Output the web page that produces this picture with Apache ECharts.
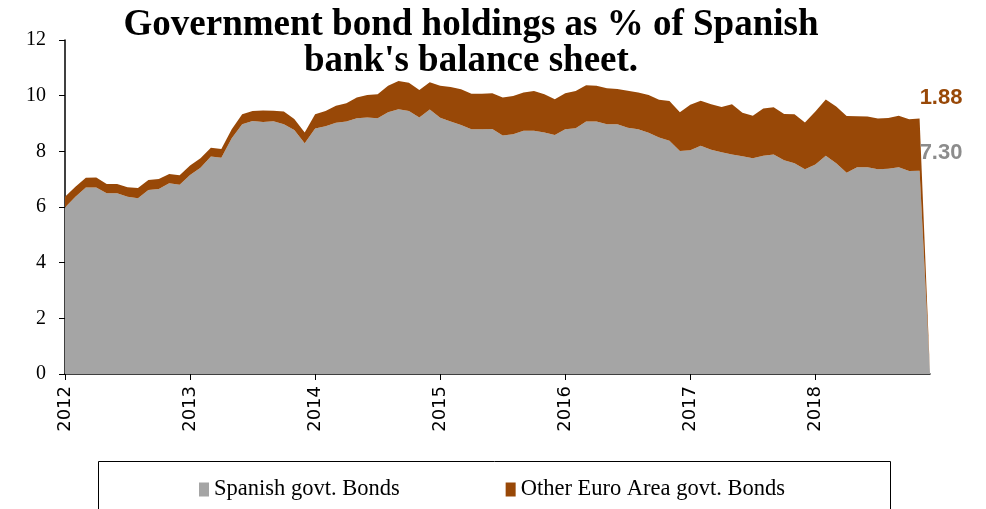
<!DOCTYPE html>
<html>
<head>
<meta charset="utf-8">
<script src="https://cdn.jsdelivr.net/npm/echarts@6/dist/echarts.min.js"></script>
<style>html,body{margin:0;padding:0;background:#fff;}#c{width:986px;height:509px;}</style>
</head>
<body>
<div id="c"></div>
<script>
const years = [2012, 2013, 2014, 2015, 2016, 2017, 2018];
const months = [];
for (let y = 2012; y <= 2018; y++) for (let m = 1; m <= 12; m++) months.push(y + '-' + String(m).padStart(2, '0'));
const spanish = [
  5.98, 6.37, 6.70, 6.70, 6.49, 6.49, 6.37, 6.31, 6.61, 6.65, 6.85, 6.80,
  7.15, 7.41, 7.81, 7.77, 8.47, 8.97, 9.09, 9.05, 9.08, 8.97, 8.77, 8.29,
  8.82, 8.90, 9.03, 9.07, 9.19, 9.22, 9.19, 9.40, 9.51, 9.45, 9.22, 9.50,
  9.21, 9.07, 8.95, 8.79, 8.79, 8.80, 8.57, 8.61, 8.74, 8.74, 8.68, 8.59,
  8.79, 8.83, 9.07, 9.07, 8.97, 8.97, 8.85, 8.79, 8.67, 8.50, 8.38, 8.01,
  8.04, 8.20, 8.06, 7.97, 7.89, 7.82, 7.75, 7.84, 7.89, 7.68, 7.57, 7.36,
  7.53, 7.84, 7.57, 7.23, 7.43, 7.43, 7.36, 7.37, 7.43, 7.29, 7.30, 0
];
const otherEA = [
  0.39, 0.36, 0.35, 0.36, 0.34, 0.34, 0.34, 0.37, 0.36, 0.36, 0.34, 0.34,
  0.34, 0.34, 0.32, 0.31, 0.32, 0.36, 0.36, 0.42, 0.38, 0.46, 0.39, 0.39,
  0.51, 0.55, 0.61, 0.66, 0.74, 0.80, 0.86, 0.96, 1.02, 1.01, 0.98, 0.98,
  1.15, 1.24, 1.28, 1.28, 1.28, 1.29, 1.36, 1.38, 1.37, 1.43, 1.37, 1.28,
  1.30, 1.34, 1.30, 1.29, 1.30, 1.27, 1.33, 1.32, 1.35, 1.35, 1.43, 1.39,
  1.63, 1.62, 1.63, 1.62, 1.80, 1.57, 1.53, 1.70, 1.69, 1.66, 1.76, 1.68,
  1.90, 2.02, 2.04, 2.04, 1.83, 1.82, 1.82, 1.83, 1.85, 1.86, 1.88, 0
];
const seriesNames = ['Spanish govt. Bonds', 'Other Euro Area govt. Bonds'];
const colors = ['#A5A5A5', '#984807'];
const labelIndex = 82;

function withLabel(arr, color, offsetY) {
  return arr.map((v, i) => i === labelIndex ? {
    value: v,
    label: {
      show: true, position: 'right', distance: 0, offset: [0, offsetY],
      formatter: p => p.value.toFixed(2),
      color: color, fontFamily: 'Liberation Sans', fontWeight: 'bold', fontSize: 22
    }
  } : v);
}

const chart = echarts.init(document.getElementById('c'), null, { renderer: 'canvas' });
chart.setOption({
  animation: false,
  backgroundColor: '#fff',
  title: {
    text: 'Government bond holdings as % of Spanish\nbank\'s balance sheet.',
    left: 466, top: 2, textAlign: 'center',
    textStyle: { fontFamily: 'Liberation Serif', fontWeight: 'bold', fontSize: 37, lineHeight: 36, color: '#000' }
  },
  graphic: [{
    type: 'rect', left: 96, top: 459,
    shape: { width: 792, height: 60 },
    style: { fill: 'none', stroke: '#000', lineWidth: 1 }
  }],
  legend: {
    data: seriesNames,
    left: 194, top: 473, itemGap: 106,
    icon: 'rect', itemWidth: 10, itemHeight: 14,
    textStyle: { fontFamily: 'Liberation Serif', fontSize: 22.5, color: '#000' }
  },
  grid: { left: 65, right: 56, top: 40, bottom: 135 },
  xAxis: {
    type: 'category', data: months, boundaryGap: false,
    axisLine: { lineStyle: { color: '#000', width: 1.5 } },
    axisTick: { show: true, interval: i => i % 12 === 0, length: 6, lineStyle: { color: '#000' } },
    axisLabel: {
      interval: i => i % 12 === 0, rotate: 90, margin: 12,
      formatter: v => v.slice(0, 4),
      fontFamily: 'DejaVu Sans', fontSize: 18, color: '#000'
    },
    splitLine: { show: false }
  },
  yAxis: {
    type: 'value', min: 0, max: 12, interval: 2,
    axisLine: { show: true, lineStyle: { color: '#000', width: 1.5 } },
    axisTick: { show: true, length: 6, lineStyle: { color: '#000' } },
    axisLabel: { fontFamily: 'Liberation Serif', fontSize: 20, color: '#000', margin: 19 },
    splitLine: { show: false }
  },
  series: [
    {
      name: seriesNames[0], type: 'line', stack: 'total',
      data: withLabel(spanish, '#8C8C8C', -18),
      symbol: 'circle', symbolSize: 0.1, showSymbol: true,
      lineStyle: { width: 0 }, itemStyle: { color: colors[0] },
      areaStyle: { color: colors[0], opacity: 1 }
    },
    {
      name: seriesNames[1], type: 'line', stack: 'total',
      data: withLabel(otherEA, '#984807', -21),
      symbol: 'circle', symbolSize: 0.1, showSymbol: true,
      lineStyle: { width: 0 }, itemStyle: { color: colors[1] },
      areaStyle: { color: colors[1], opacity: 1 }
    }
  ]
});
</script>
</body>
</html>
